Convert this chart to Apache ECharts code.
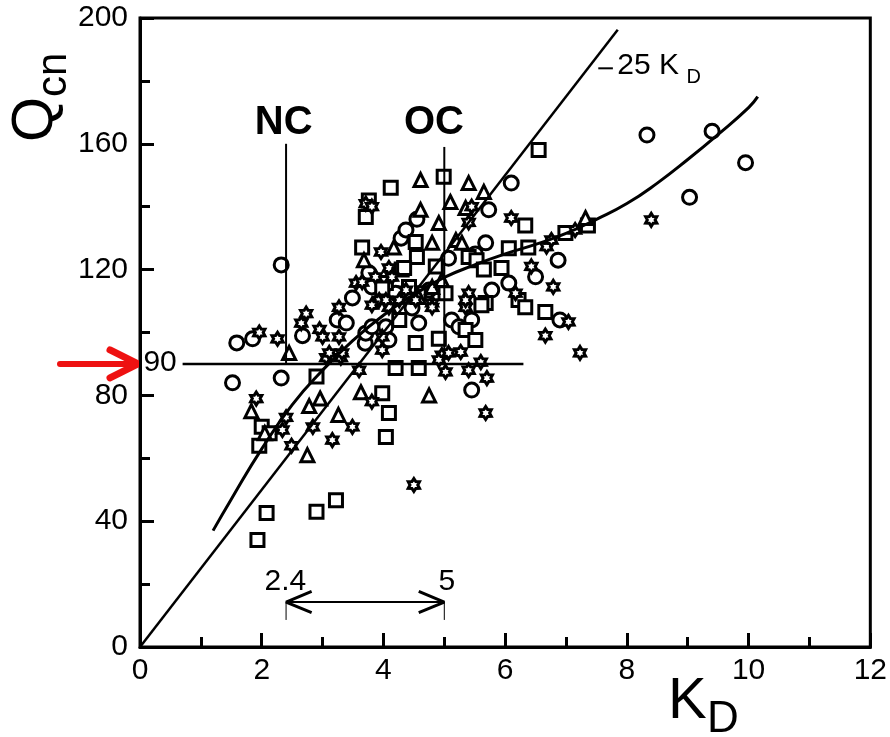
<!DOCTYPE html>
<html>
<head>
<meta charset="utf-8">
<script src="https://cdn.jsdelivr.net/npm/echarts@6/dist/echarts.min.js"></script>
<style>
  html, body { margin: 0; padding: 0; background: #fff; }
  #main { width: 890px; height: 737px; }
</style>
</head>
<body>
<div id="main"></div>
<script>
// ---- measurements: K_D (x) vs Q_cn (y) ----
const circles = [
  [1.52,84],[2.32,85.5],[1.59,96.7],[1.85,98],[2.32,121.5],[2.67,99],
  [3.24,104],[3.39,103],[3.49,111],[3.7,96.6],[3.71,99.8],[3.81,101.8],[4.04,101.8],[4.09,97.6],
  [3.76,119],[3.81,114.5],[4.2,112.5],[4.75,113.5],[4.47,107.8],
  [4.58,103],[5.12,104],[5.45,104],[5.45,81.7],[5.24,101.8],
  [4.55,136],[4.29,130],[4.37,132.6],[5.73,139],[6.1,147.5],[5.68,128.5],[5.51,125],[5.07,123.6],
  [5.78,113.5],[6.87,123],[6.5,117.7],[6.9,104],[6.06,115.7],
  [8.33,162.8],[9.4,164],[9.95,154],[9.03,143]
];
const squares = [
  [1.93,34],[2.08,42.6],[2.9,43],[3.22,46.7],[4.04,66.8],[4.09,74.4],[3.98,80.7],
  [2.0,70],[2.13,68],[1.96,64],[2.9,86],[4.2,88.7],[4.58,88.7],
  [4.53,96.7],[4.91,98],[5.35,100.8],[5.51,97.6],[4.26,104],
  [4.12,146],[3.71,136.7],[3.76,142],[3.65,127],[4.99,149.5],[4.53,128.8],[4.3,120],[4.55,124],
  [4.58,112.5],[4.34,120.5],[4.86,121],[4.42,114.5],[4.04,115.7],[5.02,112.5],[3.98,114],
  [5.4,124],[5.53,123],[5.65,120],[5.94,120.5],[6.06,126.8],[6.38,127],[6.33,134],[6.55,158],
  [5.68,109.4],[5.61,108.7],[6.22,110.3],[6.33,108],[6.66,106.5],[6.99,131.6],[7.36,134]
];
const triangles = [
  [1.83,75],[2.45,93.5],[2.78,76.6],[2.96,79],[3.26,73.8],[2.75,61],[3.63,81],[4.75,80],
  [3.68,123],[4.61,148.5],[5.4,147.5],[5.65,144.7],[5.1,141.5],[4.61,139],[4.91,134.8],[5.35,139.6],
  [4.17,127],[4.8,128.5],[5.19,129.4],[5.29,128.5],[7.32,136.4],[4.8,114.5],[4.58,111.3],[4.96,116.7],[2.05,68]
];
const stars = [
  [1.91,79],[2.84,70],[3.16,65.8],[3.49,70],[2.49,64],[3.81,78],[4.5,51.5],[2.34,69],[2.4,73],
  [3.6,88],[5.02,87.5],[5.4,88],[5.7,85.5],[5.6,90.6],[4.96,92.8],[5.27,93.8],[5.07,93.5],[4.91,91.3],[5.68,74.4],
  [2.26,98],[1.96,100],[2.65,103],[2.73,106],[2.95,101],[3.0,98.6],[3.06,92],[3.3,92],[3.11,93.5],[3.32,93.5],
  [3.27,98.6],[3.27,108],[3.98,98.6],[3.98,94.4],
  [3.55,115.7],[3.65,116],[3.71,141],[3.81,140],[3.96,125.6],[4.09,120.5],[4.14,117.6],
  [3.87,117.7],[3.93,110.3],[4.09,108],[4.8,109.4],[4.53,110.3],[4.37,113.5],[4.8,108],[3.81,108.7],[4.04,110.3],[4.26,110.3],
  [5.45,140],[5.4,135],[5.4,112.5],[5.35,108],[5.35,110.3],[6.17,112.5],
  [6.1,136.4],[6.68,127.3],[6.76,129.4],[7.15,132.6],[6.43,121],[6.79,114.5],[6.66,99],[7.04,103.4],[7.23,93.5],[8.4,135.8]
];

// fitted trend curve
const curveK = [1.2, 1.5, 2, 2.5, 3, 3.5, 4, 4.5, 5, 5.5, 6, 6.5, 7, 7.5, 8, 8.5, 9, 9.5, 10, 10.15];
const curveQ = [37, 47, 63, 77, 88, 97.5, 105.5, 112, 117.5, 121.5, 125, 128, 131.5, 136, 141, 147.5, 155, 163, 171.5, 175];

// proportional line Q = 25 K_D
const slope = 25;
const slopeK = [0, 7.85];

// reference lines
const ncLine = [[2.4, 90], [2.4, 160]];
const ocLine = [[5, 90], [5, 159]];
const level90 = [[0.7, 90], [6.3, 90]];
const leader = [[7.53, 184], [7.77, 184]];
const spanY = 14.3;
const spanK = [2.4, 5];

const xTicks = [0, 2, 4, 6, 8, 10, 12];
const yTicks = [0, 40, 80, 120, 160, 200];

const FONT = 'Liberation Sans, Arial, Helvetica, sans-serif';
const starPath = 'path://M10 0 L13 4.8 L18.66 5 L16 10 L18.66 15 L13 15.2 L10 20 L7 15.2 L1.34 15 L4 10 L1.34 5 L7 4.8 Z';

const hollow = { color: '#fff', borderColor: '#000', borderWidth: 3, opacity: 1 };

function scatter(name, data, symbol, size) {
  return {
    name, type: 'scatter', data, symbol, symbolSize: size,
    symbolKeepAspect: true, itemStyle: hollow, z: 2, silent: true
  };
}
function seg(name, data, width, smooth) {
  return {
    name, type: 'line', data, showSymbol: false, symbol: 'none',
    smooth: smooth || false,
    lineStyle: { color: '#000', width: width }, z: 4, silent: true, animation: false
  };
}

const chev = 0.42, chevY = 3.4;
const texts = [
  { value: [2.36, 166.6], name: 'NC', fs: 40, bold: true },
  { value: [4.83, 166.6], name: 'OC', fs: 40, bold: true },
  { value: [0.33, 90.4], name: '90', fs: 30 },
  { value: [2.39, 20.7], name: '2.4', fs: 30 },
  { value: [5.04, 20.7], name: '5', fs: 30 },
  { value: [8.35, 184.7], name: '25 K', fs: 30 },
  { value: [9.1, 181], name: 'D', fs: 20 }
];

const chart = echarts.init(document.getElementById('main'), null, { renderer: 'canvas' });

const axisCommon = {
  axisLine: { show: true, lineStyle: { color: '#000', width: 3 } },
  axisTick: { show: true, inside: true, length: 14, lineStyle: { color: '#000', width: 3 } },
  minorTick: { show: true, splitNumber: 2, length: 10, lineStyle: { color: '#000', width: 3 } },
  splitLine: { show: false },
  axisLabel: { color: '#000', fontSize: 30, fontFamily: FONT }
};

chart.setOption({
  animation: false,
  backgroundColor: '#fff',
  grid: { left: 140, right: 17, top: 18, bottom: 90, show: true, borderColor: '#000', borderWidth: 3 },
  xAxis: Object.assign({}, axisCommon, {
    type: 'value', min: 0, max: 12, interval: 2,
    axisLabel: Object.assign({}, axisCommon.axisLabel, {
      margin: 9,
      formatter: v => xTicks.indexOf(v) >= 0 ? String(v) : ''
    })
  }),
  yAxis: Object.assign({}, axisCommon, {
    type: 'value', min: 0, max: 200, interval: 40,
    axisLabel: Object.assign({}, axisCommon.axisLabel, {
      margin: 12,
      formatter: v => yTicks.indexOf(v) >= 0 ? String(v) : ''
    })
  }),
  series: [
    scatter('circle', circles, 'circle', 14),
    scatter('square', squares, 'rect', 13),
    scatter('triangle', triangles, 'triangle', 13),
    scatter('star', stars, starPath, 13),
    seg('trend', curveK.map((k, i) => [k, curveQ[i]]), 3, 0.5),
    seg('25KD', slopeK.map(k => [k, slope * k]), 2.5),
    seg('NC', ncLine, 2),
    seg('OC', ocLine, 2),
    seg('level90', level90, 2.5),
    seg('leader', leader, 2),
    seg('span', spanK.map(k => [k, spanY]), 2),
    seg('headL', [[spanK[0] + chev, spanY + chevY], [spanK[0], spanY], [spanK[0] + chev, spanY - chevY]], 3),
    seg('headR', [[spanK[1] - chev, spanY + chevY], [spanK[1], spanY], [spanK[1] - chev, spanY - chevY]], 3),
    seg('barL', [[spanK[0], spanY], [spanK[0], 8.6]], 1),
    seg('barR', [[spanK[1], spanY], [spanK[1], 8.6]], 1),
    {
      name: 'labels', type: 'scatter', symbolSize: 0, z: 6, silent: true,
      itemStyle: { opacity: 1 },
      data: texts.map(t => ({
        value: t.value, name: t.name,
        label: {
          show: true, position: 'inside', formatter: '{b}', color: '#000', opacity: 1,
          textBorderWidth: 0, textBorderColor: 'transparent',
          fontSize: t.fs, fontWeight: t.bold ? 'bold' : 'normal', fontFamily: FONT
        }
      }))
    }
  ]
});

// axis titles and the red pointer to the 90 level
const p90 = chart.convertToPixel({ gridIndex: 0 }, [0, 90]);
const ax = p90[0], ay = p90[1];
chart.setOption({
  graphic: [
    {
      type: 'group', x: 36, y: 142, rotation: Math.PI / 2,
      children: [
        { type: 'text', x: 0, y: 0, style: { text: 'Q', fill: '#000', font: '58px ' + FONT, textAlign: 'left', textVerticalAlign: 'middle', align: 'left', verticalAlign: 'middle' } },
        { type: 'text', x: 45, y: 18, style: { text: 'cn', fill: '#000', font: '42px ' + FONT, textAlign: 'left', textVerticalAlign: 'middle', align: 'left', verticalAlign: 'middle' } }
      ]
    },
    { type: 'text', x: 668, y: 702, style: { text: 'K', fill: '#000', font: '58px ' + FONT, textAlign: 'left', textVerticalAlign: 'middle', align: 'left', verticalAlign: 'middle' } },
    { type: 'text', x: 707, y: 720, style: { text: 'D', fill: '#000', font: '44px ' + FONT, textAlign: 'left', textVerticalAlign: 'middle', align: 'left', verticalAlign: 'middle' } },
    {
      type: 'polyline', shape: { points: [[60, ay], [ax - 3, ay]] },
      style: { stroke: '#ee1111', lineWidth: 6, lineCap: 'round', fill: null }
    },
    {
      type: 'polyline', shape: { points: [[ax - 30, ay - 14], [ax - 2, ay], [ax - 30, ay + 14]] },
      style: { stroke: '#ee1111', lineWidth: 7, lineCap: 'round', lineJoin: 'round', fill: null }
    }
  ]
});
</script>
</body>
</html>
